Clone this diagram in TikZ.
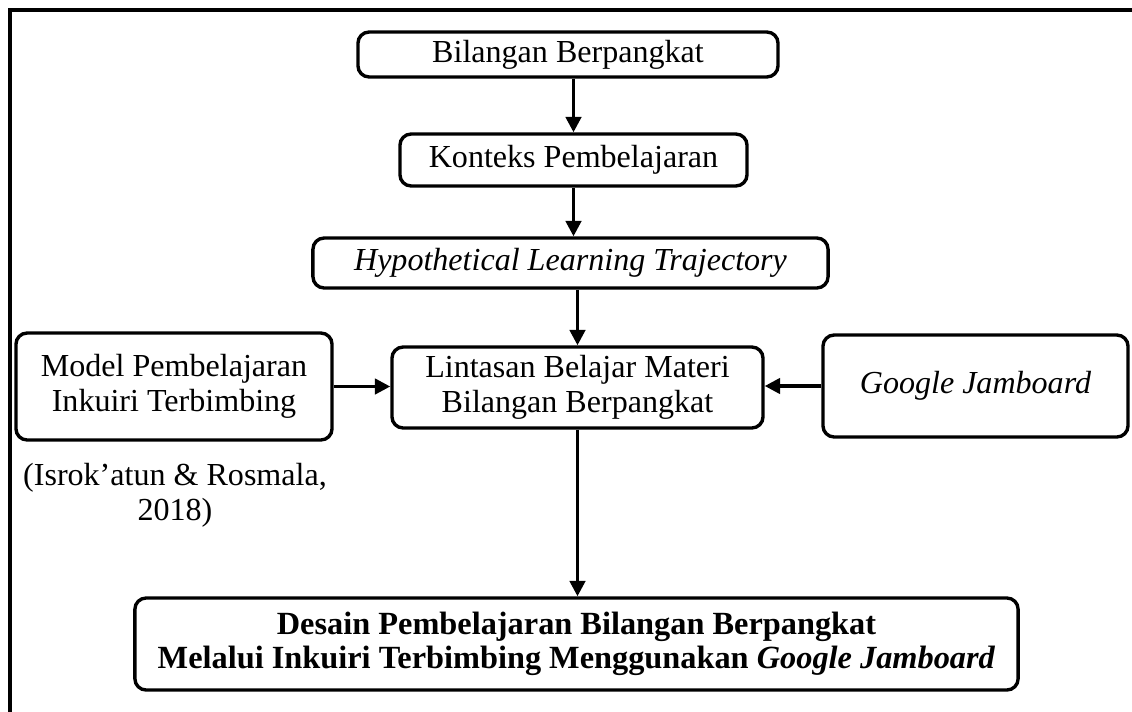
\documentclass[tikz,border=0pt]{standalone}
\usepackage{fontspec}
\setmainfont{Liberation Serif}
\usepackage{tikz}
\usetikzlibrary{arrows.meta}
\usetikzlibrary{positioning}

\tikzset{
	box/.style={draw, line width=2.4pt, rounded corners=8pt, align=center, inner sep=0pt},
	arr/.style={line width=2.4pt, -{Triangle[length=11pt,width=11pt]}},
	txt/.style={font=\fontsize{22.8}{25}\selectfont}
}

\begin{document}
\begin{tikzpicture}[x=0.025cm, y=-0.025cm, txt]
	\useasboundingbox (0,0) rectangle (1132,711);
	\draw[line width=2.8pt] (10,720) -- (10,10) -- (1140,10);
	
	\node[box, minimum width=10.5cm, minimum height=1.125cm] (bilangan) at (568,54.5) {Bilangan Berpangkat};
	\node[box, minimum width=8.675cm, minimum height=1.3cm] (konteks) at (573.5,160) {Konteks Pembelajaran};
	\node[box, minimum width=12.875cm, minimum height=1.25cm] (hlt) at (570.5,263) {\textit{Hypothetical Learning Trajectory}};
	\node[box, minimum width=9.275cm, minimum height=2.025cm] (lintasan) at (577.5,387.5) {Lintasan Belajar Materi\\Bilangan Berpangkat};
	\node[box, minimum width=7.9cm, minimum height=2.675cm] (model) at (174,386.5) {Model Pembelajaran\\Inkuiri Terbimbing};
	\node[box, minimum width=7.625cm, minimum height=2.55cm] (jamboard) at (975.5,386) {\textit{Google Jamboard}};
	\node[align=center] (sumber) at (175,495) {(Isrok'atun \& Rosmala,\\2018)};
	\node[box, minimum width=22.075cm, minimum height=2.3cm, font=\fontsize{23}{24}\selectfont\bfseries] (desain) at (576.5,644)
	{Desain Pembelajaran Bilangan Berpangkat\\Melalui Inkuiri Terbimbing Menggunakan \textit{Google Jamboard}};
	
	\draw[arr] (bilangan.south -| konteks.north) -- (konteks.north);
	\draw[arr] (konteks.south) -- (konteks.south |- hlt.north);
	\draw[arr] (lintasan.north |- hlt.south) -- (lintasan.north);
	\draw[arr] (model.east) -- (model.east -| lintasan.west);
	\draw[arr] (jamboard.west) -- (jamboard.west -| lintasan.east);
	\draw[arr] (lintasan.south) -- (lintasan.south |- desain.north);
\end{tikzpicture}
\end{document}
